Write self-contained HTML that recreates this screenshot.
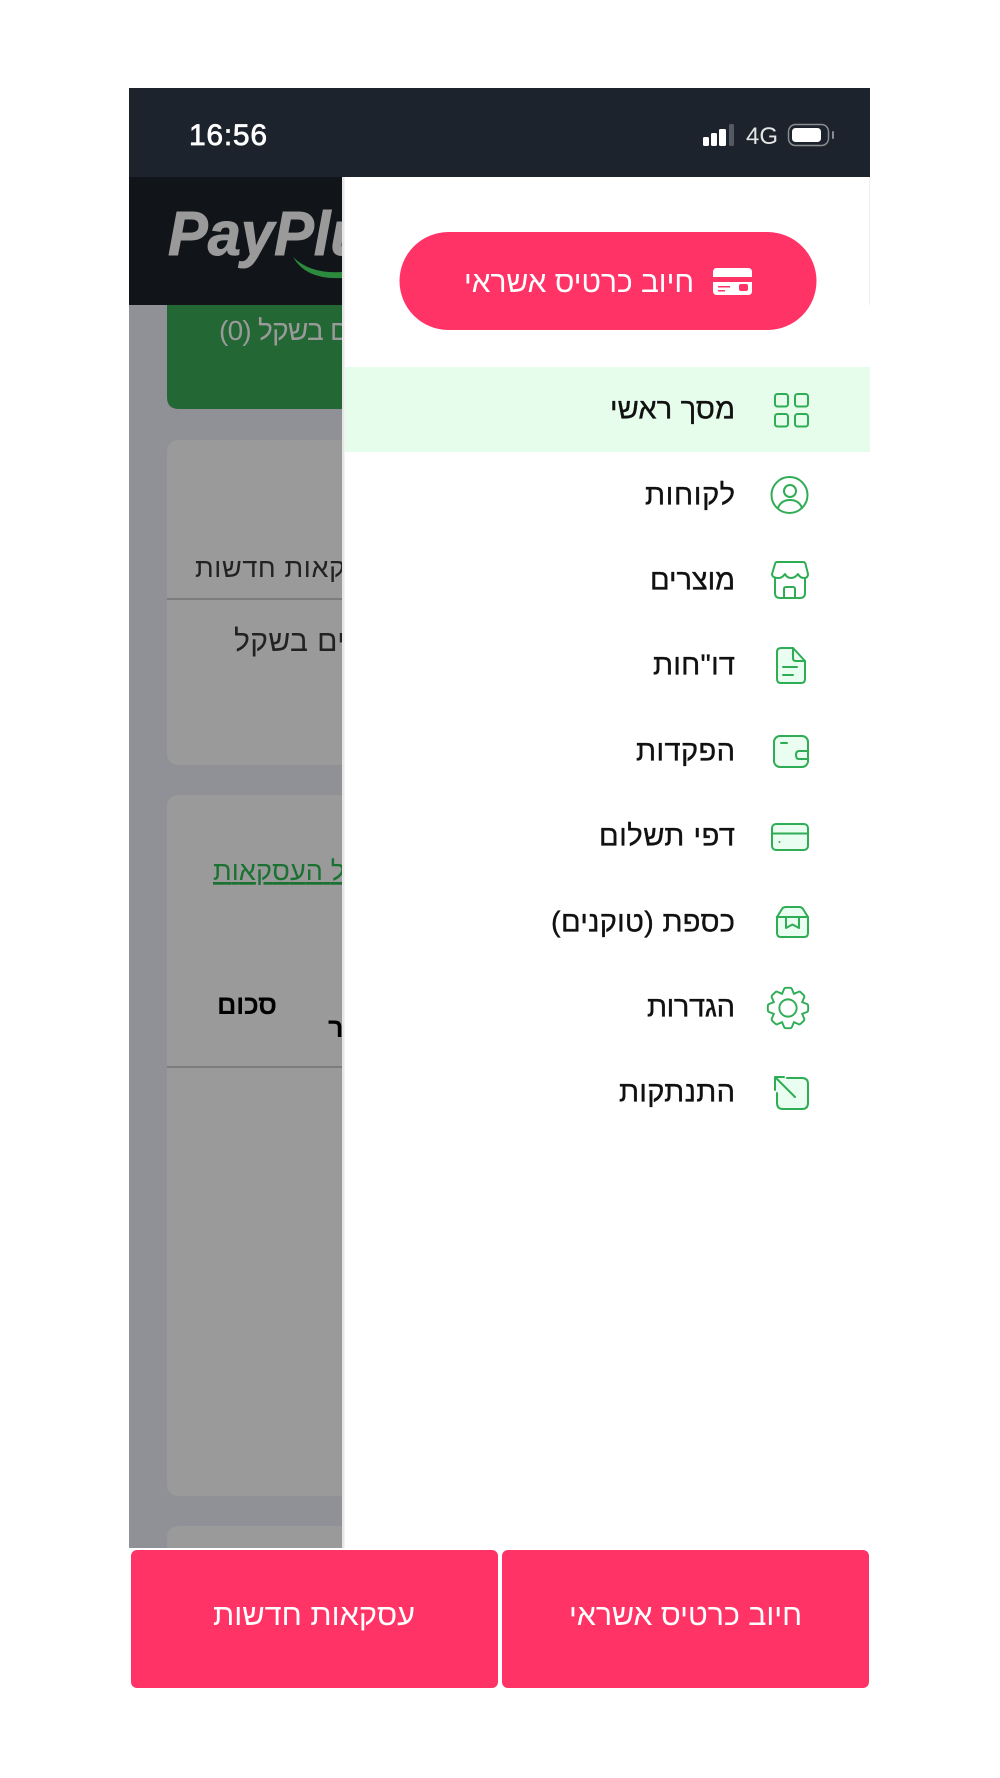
<!DOCTYPE html>
<html><head><meta charset="utf-8"><style>
html,body{margin:0;padding:0;background:#fff}
svg{display:block}
text{font-family:"Liberation Sans","DejaVu Sans",sans-serif}
.m{font-size:29px;fill:#111;stroke:#111;stroke-width:.35;direction:rtl;text-anchor:end}
.i{fill:#e9fdf0;stroke:#2ead55;stroke-width:2;stroke-linecap:round;stroke-linejoin:round}
.n{fill:none;stroke:#2ead55;stroke-width:2;stroke-linecap:round;stroke-linejoin:round}
.h{direction:rtl;text-anchor:end}
</style></head><body>
<svg width="1000" height="1778" viewBox="0 0 1000 1778" xmlns="http://www.w3.org/2000/svg">
<rect width="1000" height="1778" fill="#fff"/>
<!-- background app -->
<rect x="129" y="305" width="213" height="1243" fill="#909196"/>
<rect x="129" y="88" width="741" height="89" fill="#1c232c"/>
<rect x="129" y="177" width="213" height="128" fill="#111418"/>
<text x="168" y="255" font-size="62" font-weight="700" font-style="italic" fill="#9a9a9a" stroke="#9a9a9a" stroke-width="1" textLength="232" lengthAdjust="spacingAndGlyphs">PayPlus</text>
<path d="M293 257Q310 274 342 272V278Q306 280 293 257Z" fill="#2c8a3f"/>
<path d="M167 305H342V409H179Q167 409 167 397Z" fill="#236734"/>
<text class="h" x="219" y="340" font-size="28" fill="#9a9a9a" textLength="130" lengthAdjust="spacing">ם בשקל (0)</text>
<path d="M179 440H342V765H179Q167 765 167 753V452Q167 440 179 440Z" fill="#9a9a9a"/>
<rect x="167" y="598" width="175" height="2" fill="#7d7d7d"/>
<text class="h" x="195" y="577" font-size="27" fill="#222" textLength="150" lengthAdjust="spacing">קאות חדשות</text>
<text class="h" x="234" y="651" font-size="30" fill="#222" textLength="111" lengthAdjust="spacing">ים בשקל</text>
<path d="M179 795H342V1496H179Q167 1496 167 1484V807Q167 795 179 795Z" fill="#9a9a9a"/>
<rect x="167" y="1066" width="175" height="2" fill="#7d7d7d"/>
<text class="h" x="213" y="880" font-size="27" fill="#1a7232" text-decoration="underline" textLength="132" lengthAdjust="spacing">ל העסקאות</text>
<text class="h" x="217" y="1014" font-size="27" font-weight="700" fill="#000" textLength="60" lengthAdjust="spacing">סכום</text>
<text class="h" x="328" y="1037" font-size="27" font-weight="700" fill="#000">ר</text>
<path d="M179 1526H342V1548H167V1538Q167 1526 179 1526Z" fill="#9a9a9a"/>
<!-- status bar -->
<text x="189" y="145" font-size="30" fill="#fff" stroke="#fff" stroke-width=".7" textLength="78" lengthAdjust="spacing">16:56</text>
<rect x="703" y="137" width="6" height="9" rx="1.5" fill="#fff"/>
<rect x="711" y="133" width="6" height="13" rx="1.5" fill="#fff"/>
<rect x="719" y="129" width="7" height="17" rx="1.5" fill="#fff"/>
<rect x="729" y="124" width="5" height="22" rx="1.5" fill="#555a60"/>
<text x="746" y="144" font-size="24" fill="#e4e4e4" textLength="32" lengthAdjust="spacingAndGlyphs">4G</text>
<rect x="788.500" y="124.500" width="40" height="21" rx="7" fill="none" stroke="#8a8d90" stroke-width="1.500"/>
<rect x="792" y="128" width="29" height="14" rx="3.500" fill="#fff"/>
<rect x="832" y="131" width="2" height="8" rx="1" fill="#8a8d90"/>
<!-- drawer -->
<rect x="342" y="177" width="4" height="1371" fill="#e6e6e6"/>
<rect x="344.500" y="177" width="525.500" height="1372" fill="#fff"/>
<rect x="869" y="177" width="1" height="128" fill="#eee"/>
<rect x="399.500" y="232" width="417" height="98" rx="49" fill="#ff3366"/>
<text x="464" y="292" font-size="30" fill="#fff" direction="rtl" text-anchor="end" textLength="230" lengthAdjust="spacingAndGlyphs">חיוב כרטיס אשראי</text>
<rect x="713" y="268" width="39" height="27" rx="3.500" fill="#fff"/>
<rect x="713" y="277" width="39" height="5" fill="#ff3366"/>
<rect x="718" y="286" width="12" height="1.500" fill="#ff3366"/>
<rect x="718" y="290" width="7" height="1.500" fill="#ff3366"/>
<rect x="739" y="284" width="9" height="7" rx="2" fill="#ff3366"/>
<rect x="345" y="367" width="525" height="85" fill="#e6fdec"/>
<g transform="translate(0 1.500)">
<text class="m" x="610" y="417" textLength="125" lengthAdjust="spacing">מסך ראשי</text>
<text class="m" x="645" y="503" textLength="90" lengthAdjust="spacing">לקוחות</text>
<text class="m" x="650" y="588" textLength="85" lengthAdjust="spacing">מוצרים</text>
<text class="m" x="653" y="673" textLength="82" lengthAdjust="spacing">דו"חות</text>
<text class="m" x="636" y="759" textLength="99" lengthAdjust="spacing">הפקדות</text>
<text class="m" x="599" y="844" textLength="136" lengthAdjust="spacing">דפי תשלום</text>
<text class="m" x="551" y="930" textLength="184" lengthAdjust="spacing">כספת (טוקנים)</text>
<text class="m" x="647" y="1015" textLength="88" lengthAdjust="spacing">הגדרות</text>
<text class="m" x="619" y="1100" textLength="116" lengthAdjust="spacing">התנתקות</text>
</g>
<!-- icons -->
<rect class="n" x="775" y="394" width="13" height="12.500" rx="2.500"/>
<rect class="n" x="795" y="394" width="13" height="12.500" rx="2.500"/>
<rect class="n" x="775" y="414" width="13" height="12.500" rx="2.500"/>
<rect class="n" x="795" y="414" width="13" height="12.500" rx="2.500"/>
<circle class="n" cx="789.500" cy="495" r="18"/>
<circle class="n" cx="790" cy="491" r="6"/>
<path class="n" d="M778 508Q781 500 790 500Q799 500 802 508"/>
<path class="n" d="M775 578V593Q775 598 780 598H800Q805 598 805 593V578"/>
<path class="n" d="M777 562H803Q805 562 805.500 564L808 574Q808 578 804 578Q800 578 798 574Q795 578 791 578Q787 578 785 574Q782 578 779 578Q772 578 772 574L775 564Q775.500 562 777 562Z"/>
<path class="n" d="M784 598V589Q784 587 786 587H793Q795 587 795 589V598"/>
<path class="i" d="M781 648H793L805 661V679Q805 683 801 683H781Q777 683 777 679V652Q777 648 781 648Z"/>
<path class="n" d="M793 648V658Q793 661 796 661H805M783 667H797M783 675H793"/>
<rect class="i" x="774" y="736" width="34" height="31" rx="6"/>
<path class="i" d="M808 751H799Q796 751 796 755Q796 759 799 759H808Z"/>
<path class="n" d="M781 743H787"/>
<rect class="i" x="772" y="824" width="36" height="26" rx="4"/>
<path class="n" d="M772 833.500H808"/>
<circle cx="779.500" cy="842" r="1" fill="#2ead55"/>
<path class="i" d="M777 917L782 909Q783 907 786 907H799Q802 907 803 909L808 917V933Q808 937 804 937H781Q777 937 777 933Z"/>
<path class="n" d="M777 917H808M786 917V928L792.500 924.500L799 928V917"/>
<g class="n" transform="translate(788 1008) scale(.96)">
<path d="M-6.100-14.800L-4-20Q-3.500-21-2-21H2Q3.500-21 4-20L6.100-14.800"/>
<path transform="rotate(45)" d="M-6.100-14.800L-4-20Q-3.500-21-2-21H2Q3.500-21 4-20L6.100-14.800"/>
<path transform="rotate(90)" d="M-6.100-14.800L-4-20Q-3.500-21-2-21H2Q3.500-21 4-20L6.100-14.800"/>
<path transform="rotate(135)" d="M-6.100-14.800L-4-20Q-3.500-21-2-21H2Q3.500-21 4-20L6.100-14.800"/>
<path transform="rotate(180)" d="M-6.100-14.800L-4-20Q-3.500-21-2-21H2Q3.500-21 4-20L6.100-14.800"/>
<path transform="rotate(225)" d="M-6.100-14.800L-4-20Q-3.500-21-2-21H2Q3.500-21 4-20L6.100-14.800"/>
<path transform="rotate(270)" d="M-6.100-14.800L-4-20Q-3.500-21-2-21H2Q3.500-21 4-20L6.100-14.800"/>
<path transform="rotate(315)" d="M-6.100-14.800L-4-20Q-3.500-21-2-21H2Q3.500-21 4-20L6.100-14.800"/>
<circle r="9"/>
</g>
<path d="M787 1078H802Q808 1078 808 1084V1103Q808 1109 802 1109H783Q777 1109 777 1103V1093L775 1090V1077H787Z" fill="#e9fdf0"/>
<path class="n" d="M787 1078H802Q808 1078 808 1084V1103Q808 1109 802 1109H783Q777 1109 777 1103V1093"/>
<path class="n" d="M775 1077L795 1097M775 1077V1090M775 1077H784"/>
<!-- bottom buttons -->
<rect x="131" y="1550" width="367" height="138" rx="6" fill="#ff3366"/>
<rect x="502" y="1550" width="367" height="138" rx="6" fill="#ff3366"/>
<text x="213" y="1625" font-size="30" fill="#fff" direction="rtl" text-anchor="end" textLength="202" lengthAdjust="spacingAndGlyphs">עסקאות חדשות</text>
<text x="569" y="1625" font-size="30" fill="#fff" direction="rtl" text-anchor="end" textLength="233" lengthAdjust="spacingAndGlyphs">חיוב כרטיס אשראי</text>
</svg>
</body></html>
